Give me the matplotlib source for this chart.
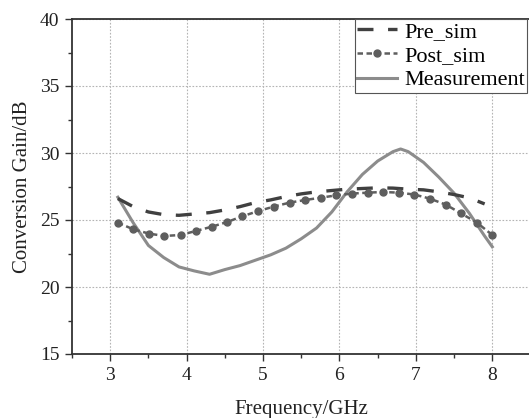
import matplotlib
matplotlib.use("Agg")
import matplotlib.pyplot as plt
from matplotlib.ticker import MultipleLocator

plt.rcParams['font.family'] = ['Liberation Serif', 'DejaVu Serif']

# gain curves, frequency in GHz, gain in dB
pre_freq = [3.1, 3.3, 3.5, 3.7, 3.9, 4.1, 4.3, 4.5, 4.7, 4.9, 5.1, 5.3, 5.5,
            5.7, 5.9, 6.1, 6.3, 6.5, 6.7, 6.9, 7.1, 7.3, 7.5, 7.7, 7.9]
pre_gain = [26.6, 26.0, 25.6, 25.4, 25.35, 25.45, 25.55, 25.75, 26.0, 26.3,
            26.5, 26.75, 26.95, 27.1, 27.2, 27.3, 27.35, 27.4, 27.38, 27.3,
            27.25, 27.1, 26.9, 26.65, 26.2]

post_freq = [3.10, 3.30, 3.51, 3.71, 3.92, 4.12, 4.33, 4.53, 4.73, 4.94,
             5.14, 5.35, 5.55, 5.76, 5.96, 6.16, 6.37, 6.57, 6.78, 6.98,
             7.18, 7.39, 7.59, 7.80, 8.00]
post_gain = [24.8, 24.31, 23.98, 23.81, 23.88, 24.18, 24.5, 24.85, 25.28,
             25.67, 26.0, 26.3, 26.49, 26.67, 26.84, 26.97, 27.04, 27.09,
             27.04, 26.9, 26.6, 26.15, 25.5, 24.8, 23.88]

meas_freq = [3.1, 3.3, 3.5, 3.7, 3.9, 4.1, 4.3, 4.5, 4.7, 4.9, 5.1, 5.3, 5.5,
             5.7, 5.9, 6.1, 6.3, 6.5, 6.7, 6.8, 6.9, 7.1, 7.3, 7.5, 7.7, 7.9,
             8.0]
meas_gain = [26.7, 24.8, 23.1, 22.2, 21.5, 21.2, 20.95, 21.3, 21.6, 22.0,
             22.4, 22.9, 23.6, 24.4, 25.6, 27.1, 28.4, 29.4, 30.1, 30.3, 30.1,
             29.3, 28.2, 27.0, 25.5, 23.8, 23.0]

W, H = 529, 418
fig = plt.figure(figsize=(W / 100, H / 100), dpi=100)
ax = fig.add_axes([72 / W, 1 - 354 / H, (530.5 - 72) / W, (354 - 19) / H])

lw = 2.4
ax.plot(pre_freq, pre_gain, color='#404040', lw=lw,
        dashes=(11.5 / lw, 10.5 / lw), label='Pre_sim', zorder=3)
ax.plot(post_freq, post_gain, color='#5e5e5e', lw=1.8, ls=(0, (2.2, 1.4)),
        marker='o', ms=5, label='Post_sim', zorder=4)
ax.plot(meas_freq, meas_gain, color='#8c8c8c', lw=2.2, label='Measurement',
        zorder=2)

ax.set_xlim(2.5, 8.5)
ax.set_ylim(15, 40)
ax.xaxis.set_major_locator(MultipleLocator(1))
ax.xaxis.set_minor_locator(MultipleLocator(0.5))
ax.yaxis.set_major_locator(MultipleLocator(5))
ax.yaxis.set_minor_locator(MultipleLocator(2.5))
ax.grid(True, which='major', ls=(0, (1.5, 1.5)), color='#b4b4b4', lw=0.8)

for side in ('left', 'bottom', 'top', 'right'):
    ax.spines[side].set_color('#333333')
    ax.spines[side].set_linewidth(1.3)
ax.tick_params(which='both', direction='out', color='#333333',
               labelsize=14, labelcolor='#222222')
ax.tick_params(which='major', length=5, width=1.0, pad=4)
ax.tick_params(which='minor', length=3, width=1.0)

ax.set_xlabel('Frequency/GHz', fontsize=15, color='#222222', labelpad=12)
ax.set_ylabel('Conversion Gain/dB', fontsize=15, color='#222222', labelpad=6)

leg = fig.legend(loc='upper left', bbox_to_anchor=(355 / W, 1 - 19 / H),
                 borderaxespad=0, fontsize=16, fancybox=False,
                 handlelength=1.8, handletextpad=0.3, labelspacing=0.17,
                 borderpad=0.1, framealpha=1)
leg.get_frame().set_edgecolor('#555555')
leg.get_frame().set_linewidth(0.8)

fig.savefig('out.png', dpi=100)
